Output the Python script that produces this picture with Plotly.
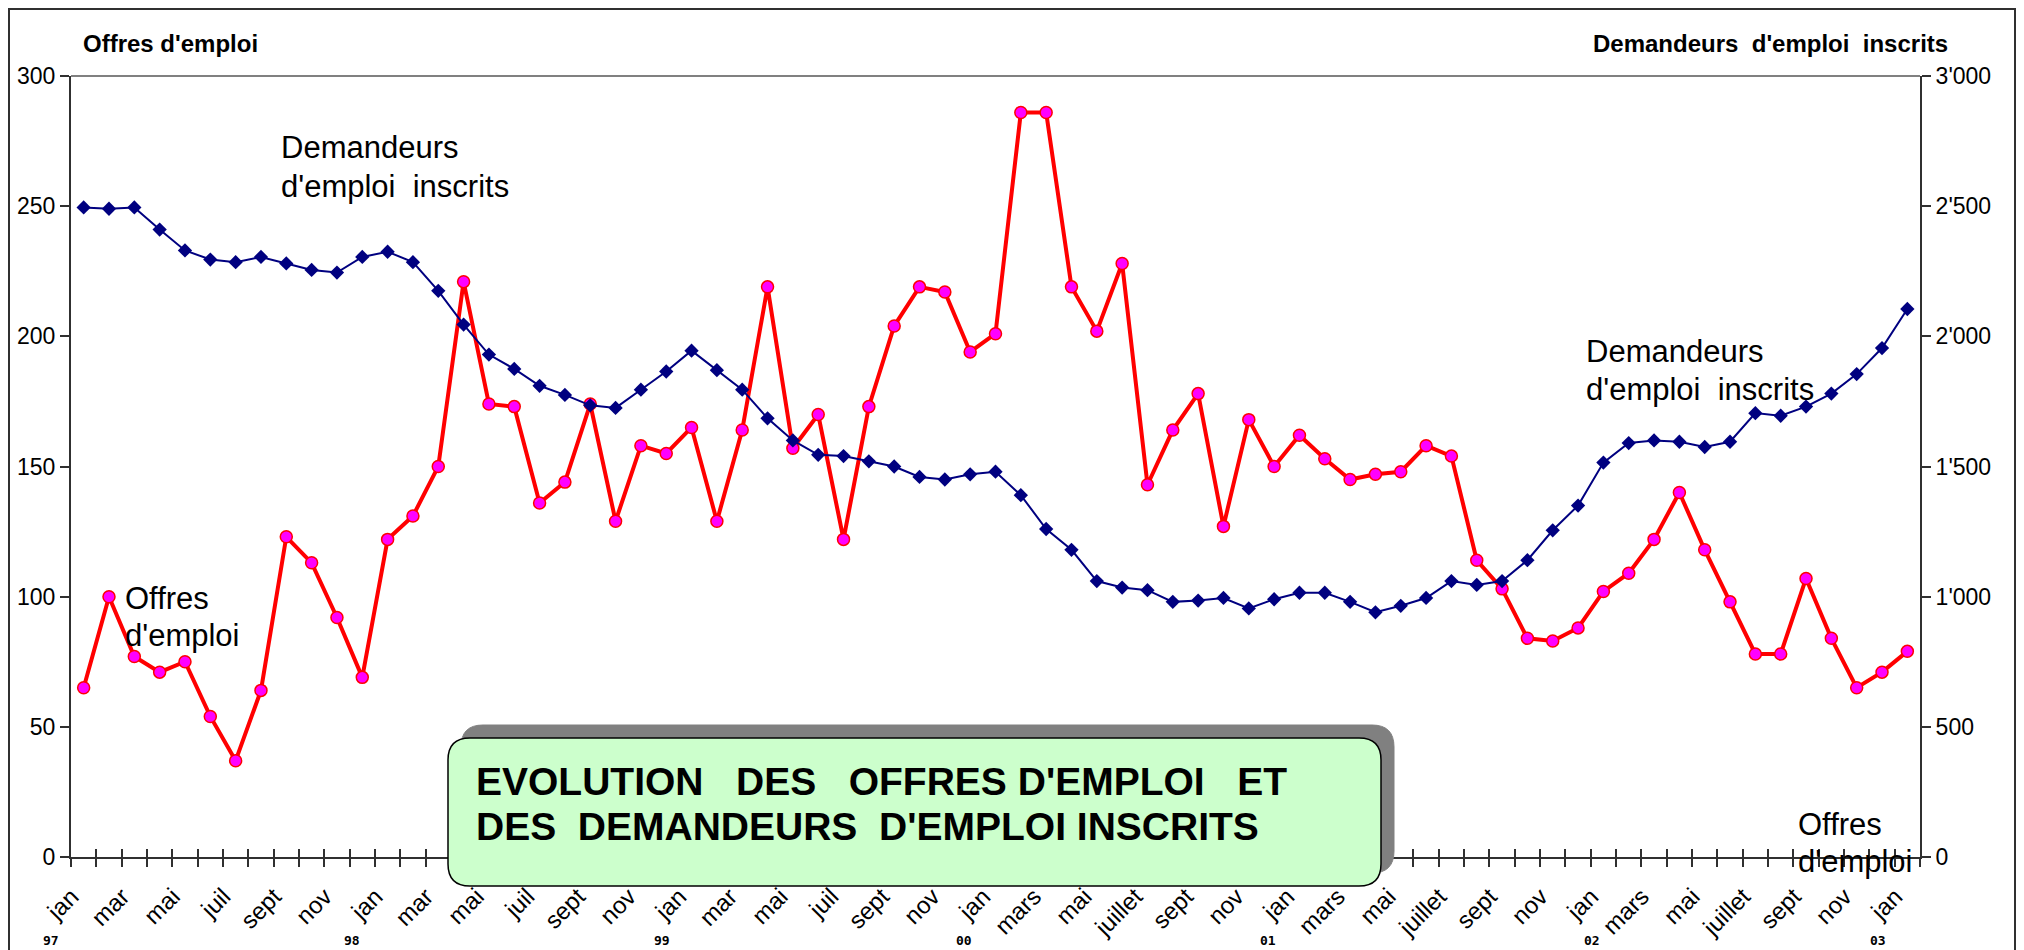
import plotly.graph_objects as go

# ---------------- data ----------------
months_fr = ["jan", "mar", "mai", "juil", "sept", "nov",
             "jan", "mar", "mai", "juil", "sept", "nov",
             "jan", "mar", "mai", "juil", "sept", "nov",
             "jan", "mars", "mai", "juillet", "sept", "nov",
             "jan", "mars", "mai", "juillet", "sept", "nov",
             "jan", "mars", "mai", "juillet", "sept", "nov",
             "jan"]
years = ["97", "98", "99", "00", "01", "02", "03"]
year_shift = [-33, -36, -30, -32, -31, -11, -29]

offres = [65, 100, 77, 71, 75, 54, 37, 64, 123, 113, 92, 69,
          122, 131, 150, 221, 174, 173, 136, 144, 174, 129, 158, 155,
          165, 129, 164, 219, 157, 170, 122, 173, 204, 219, 217, 194,
          201, 286, 286, 219, 202, 228, 143, 164, 178, 127, 168, 150,
          162, 153, 145, 147, 148, 158, 154, 114, 103, 84, 83, 88,
          102, 109, 122, 140, 118, 98, 78, 78, 107, 84, 65, 71,
          79]

demandeurs = [2495, 2490, 2495, 2410, 2330, 2295, 2285, 2305, 2280, 2255, 2245, 2305,
              2325, 2285, 2175, 2045, 1930, 1875, 1810, 1775, 1735, 1725, 1795, 1865,
              1945, 1870, 1795, 1685, 1600, 1545, 1540, 1520, 1500, 1460, 1450, 1470,
              1480, 1390, 1260, 1180, 1060, 1035, 1025, 980, 985, 995, 955, 990,
              1015, 1015, 980, 940, 965, 995, 1060, 1045, 1060, 1140, 1255, 1350,
              1515, 1590, 1600, 1595, 1575, 1595, 1705, 1695, 1730, 1780, 1855, 1955,
              2105]

left_ticks = [0, 50, 100, 150, 200, 250, 300]
right_ticks = [0, 500, 1000, 1500, 2000, 2500, 3000]
right_ticktext = ["0", "500", "1'000", "1'500", "2'000", "2'500", "3'000"]

# ---------------- geometry helpers ----------------
W, H = 2024, 950
def px(x):
    return x / W
def py(y):
    return 1 - y / H

idx = list(range(len(offres)))
label_pos = list(range(0, len(offres), 2))
bounds = [i - 0.5 for i in range(len(offres) + 1)]

FONT = "Liberation Sans, Arial, sans-serif"

fig = go.Figure()

fig.add_trace(go.Scatter(
    x=idx, y=offres, mode="lines+markers", name="Offres d'emploi",
    line=dict(color="#FF0000", width=4),
    marker=dict(symbol="circle", size=12, color="#FF00FF",
                line=dict(color="#FF0000", width=1.5)),
    xaxis="x", yaxis="y", hoverinfo="skip"))

fig.add_trace(go.Scatter(
    x=idx, y=demandeurs, mode="lines+markers", name="Demandeurs d'emploi inscrits",
    line=dict(color="#000080", width=2),
    marker=dict(symbol="diamond", size=11, color="#000080"),
    xaxis="x", yaxis="y2", hoverinfo="skip"))

# invisible trace to make the inner-tick axis render
fig.add_trace(go.Scatter(x=[idx[0]], y=[offres[0]], mode="markers",
                         marker=dict(opacity=0), xaxis="x2", yaxis="y",
                         hoverinfo="skip", showlegend=False))

xdom = [px(71), px(1920)]
ydom = [py(857), py(76)]
xr = [-0.5, len(offres) - 0.5]

fig.update_layout(
    width=W, height=H,
    margin=dict(l=0, r=0, t=0, b=0),
    paper_bgcolor="white", plot_bgcolor="white",
    showlegend=False,
    font=dict(family=FONT, color="black"),
    xaxis=dict(
        domain=xdom, range=xr, anchor="y",
        tickmode="array", tickvals=label_pos, ticktext=months_fr,
        tickangle=-45, tickfont=dict(size=24, family=FONT),
        ticks="", ticklabelstandoff=14, ticklabelshift=-12,
        showgrid=False, zeroline=False,
        showline=True, linecolor="#303030", linewidth=2,
        minor=dict(tickmode="array", tickvals=bounds, ticks="outside",
                   ticklen=8, tickwidth=1.5, tickcolor="#303030", showgrid=False),
        automargin=False, fixedrange=True),
    xaxis2=dict(
        domain=xdom, range=xr, anchor="y", overlaying="x", side="bottom",
        tickmode="array", tickvals=bounds, ticks="inside", ticklen=8,
        tickwidth=1.5, tickcolor="#303030", showticklabels=False,
        showgrid=False, zeroline=False, showline=False, automargin=False),
    yaxis=dict(
        domain=ydom, range=[0, 300], anchor="x",
        tickmode="array", tickvals=left_ticks,
        tickfont=dict(size=23, family=FONT),
        ticks="outside", ticklen=9, tickwidth=1.5, tickcolor="#303030",
        showgrid=False, zeroline=False,
        showline=True, linecolor="#303030", linewidth=2,
        automargin=False, fixedrange=True),
    yaxis2=dict(
        domain=ydom, range=[0, 3000], anchor="x", overlaying="y", side="right",
        tickmode="array", tickvals=right_ticks, ticktext=right_ticktext,
        tickfont=dict(size=23, family=FONT),
        ticks="outside", ticklen=9, tickwidth=1.5, tickcolor="#303030",
        showgrid=False, zeroline=False,
        showline=True, linecolor="#303030", linewidth=2,
        automargin=False, fixedrange=True),
)

shapes = []
# outer border
shapes.append(dict(type="rect", xref="paper", yref="paper",
                   x0=px(9), x1=px(2015), y0=-0.05, y1=py(9),
                   line=dict(color="#303030", width=2), fillcolor="rgba(0,0,0,0)",
                   layer="below"))
# top frame line (gray)
shapes.append(dict(type="line", xref="paper", yref="paper",
                   x0=xdom[0], x1=xdom[1], y0=ydom[1], y1=ydom[1],
                   line=dict(color="#808080", width=2), layer="above"))


def rounded_rect(x0, y0, x1, y1, r):
    # pixel coords (y down) -> paper path
    pts = (f"M {px(x0 + r)},{py(y0)} L {px(x1 - r)},{py(y0)} "
           f"Q {px(x1)},{py(y0)} {px(x1)},{py(y0 + r)} "
           f"L {px(x1)},{py(y1 - r)} Q {px(x1)},{py(y1)} {px(x1 - r)},{py(y1)} "
           f"L {px(x0 + r)},{py(y1)} Q {px(x0)},{py(y1)} {px(x0)},{py(y1 - r)} "
           f"L {px(x0)},{py(y0 + r)} Q {px(x0)},{py(y0)} {px(x0 + r)},{py(y0)} Z")
    return pts

# title box shadow and box
shapes.append(dict(type="path", xref="paper", yref="paper",
                   path=rounded_rect(461, 725, 1394, 873, 22),
                   fillcolor="#808080", line=dict(color="#808080", width=1),
                   layer="above"))
shapes.append(dict(type="path", xref="paper", yref="paper",
                   path=rounded_rect(448, 738, 1381, 886, 22),
                   fillcolor="#CCFFCC", line=dict(color="#000000", width=1.5),
                   layer="above"))
fig.update_layout(shapes=shapes)

NB = "\u00a0"
ann = []
def txt(text, x, y, size, bold=False, xanchor="left", family=FONT, xref="paper", xshift=0):
    t = f"<b>{text}</b>" if bold else text
    ann.append(dict(text=t, x=x, y=y, xref=xref, yref="paper",
                    xanchor=xanchor, yanchor="middle", showarrow=False,
                    xshift=xshift,
                    font=dict(size=size, family=family, color="black")))

# axis titles
txt("Offres d'emploi", px(81), py(43), 24, bold=True)
txt(f"Demandeurs{NB} d'emploi{NB} inscrits", px(1950), py(43), 24, bold=True, xanchor="right")

# series labels
txt("Demandeurs", px(279), py(148), 31)
txt(f"d'emploi{NB} inscrits", px(279), py(186), 31)
txt("Demandeurs", px(1584), py(351), 31)
txt(f"d'emploi{NB} inscrits", px(1584), py(389), 31)
txt("Offres", px(123), py(598), 31)
txt("d'emploi", px(123), py(635), 31)
txt("Offres", px(1796), py(824), 31)
txt("d'emploi", px(1796), py(861), 31)

# title
txt(f"EVOLUTION{NB}{NB} DES{NB}{NB} OFFRES D'EMPLOI{NB}{NB} ET", px(474), py(781), 39, bold=True)
txt(f"DES{NB} DEMANDEURS{NB} D'EMPLOI INSCRITS", px(474), py(826), 39, bold=True)

# year labels
for k, yr in enumerate(years):
    txt(yr, 12 * k, py(940), 13, bold=True, xanchor="center",
        family="DejaVu Sans Mono, monospace", xref="x", xshift=year_shift[k])

fig.update_layout(annotations=ann)

fig.write_html("out.html", config={"displayModeBar": False},
               post_script="document.body.style.margin='0';document.body.style.overflow='hidden';")
